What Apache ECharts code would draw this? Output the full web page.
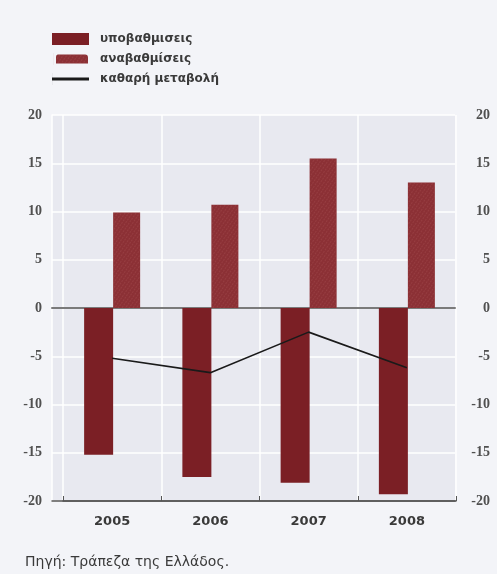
<!DOCTYPE html>
<html lang="el">
<head>
<meta charset="UTF-8">
<title>Αναβαθμίσεις και υποβαθμίσεις</title>
<script src="https://cdn.jsdelivr.net/npm/echarts@6/dist/echarts.min.js"></script>
<style>
  html, body { margin: 0; padding: 0; background: #f3f4f8; }
  #main { width: 497px; height: 574px; }
</style>
</head>
<body>
<div id="main"></div>
<script>
var years = ['2005', '2006', '2007', '2008'];
var downgrades = [-15.2, -17.5, -18.1, -19.3]; // υποβαθμίσεις
var upgrades = [9.9, 10.7, 15.5, 13.0];        // αναβαθμίσεις
var netChange = [-5.2, -6.7, -2.5, -6.2];      // καθαρή μεταβολή
var yMin = -20, yMax = 20, yStep = 5;

var chart = echarts.init(document.getElementById('main'));

// grid 0 = plot background, zero line + left/right labels, grid 1 = the data
var tickFont = { fontFamily: "'Liberation Serif', 'Times New Roman', serif", fontSize: 14, fontWeight: 'bold', color: '#505050' };

var option = {
    backgroundColor: '#f3f4f8',
    animation: false,
    grid: [
        { left: 52, right: 42, top: 115, bottom: 73, show: true, backgroundColor: '#e8e9f0', borderWidth: 0 },
        { left: 63, right: 41, top: 115, bottom: 73 }
    ],
    legend: {
        orient: 'vertical',
        left: 52, top: 33, padding: 0,
        itemWidth: 37, itemHeight: 12, itemGap: 8,
        textStyle: { fontFamily: 'DejaVu Sans', fontSize: 12, fontWeight: 'bold', color: '#3a3a3a', padding: [0, 0, 0, 6] },
        data: [
            { name: 'υποβαθμισεις', icon: 'rect' },
            { name: 'αναβαθμίσεις', icon: 'path://M0,0L0.05,0L0.05,12L0,12Z M5,1.5L32,1.5Q35,1.5 35,4.5L35,10.5L3,10.5L3,4.5Q3,1.5 5,1.5Z' },
            { name: 'καθαρή μεταβολή', icon: 'path://M0,0L0.05,0L0.05,12L0,12Z M0,4.5L37,4.5L37,7.5L0,7.5Z', itemStyle: { color: '#1a1a1a' } }
        ]
    },
    xAxis: [{
        gridIndex: 0,
        type: 'category',
        data: years,
        axisLine: { onZero: false, lineStyle: { color: '#555', width: 1.5 } },
        axisTick: { show: false },
        axisLabel: { show: false },
        splitLine: { show: false }
    }, {
        gridIndex: 1,
        type: 'category',
        data: years,
        axisLine: { onZero: false, lineStyle: { color: '#555', width: 1.5 } },
        axisTick: { show: true, inside: true, length: 5, lineStyle: { color: '#555' } },
        axisLabel: { fontFamily: 'DejaVu Sans', fontSize: 13, fontWeight: 'bold', color: '#3a3a3a', margin: 14 },
        splitLine: { show: true, lineStyle: { color: '#ffffff', width: 1.5 } }
    }, {
        gridIndex: 0,
        type: 'category',
        data: years,
        position: 'bottom',
        axisLine: { onZero: true, lineStyle: { color: '#7a7a7a', width: 2 } },
        axisTick: { show: false },
        axisLabel: { show: false },
        splitLine: { show: false }
    }],
    yAxis: [{
        gridIndex: 0,
        type: 'value',
        min: yMin, max: yMax, interval: yStep,
        axisLine: { show: true, lineStyle: { color: '#ffffff', width: 1.5 } },
        axisTick: { show: false },
        axisLabel: Object.assign({ margin: 10 }, tickFont),
        splitLine: { lineStyle: { color: '#ffffff', width: 1.5 } }
    }, {
        gridIndex: 0,
        type: 'value',
        position: 'right',
        min: yMin, max: yMax, interval: yStep,
        axisLine: { show: false },
        axisTick: { show: false },
        axisLabel: Object.assign({ margin: 35, align: 'right' }, tickFont),
        splitLine: { show: false }
    }, {
        gridIndex: 1,
        type: 'value',
        min: yMin, max: yMax, interval: yStep,
        axisLine: { show: false },
        axisTick: { show: false },
        axisLabel: { show: false },
        splitLine: { show: false }
    }],
    series: [{
        name: 'υποβαθμισεις',
        type: 'bar',
        xAxisIndex: 1, yAxisIndex: 2,
        data: downgrades,
        barWidth: 29,
        barGap: '0%',
        itemStyle: { color: '#7b1f25' }
    }, {
        name: 'αναβαθμίσεις',
        type: 'bar',
        xAxisIndex: 1, yAxisIndex: 2,
        data: upgrades,
        barWidth: 27,
        itemStyle: {
            color: '#8b3035',
            decal: {
                symbol: 'circle', symbolSize: 0.7,
                color: 'rgba(190,110,110,0.35)',
                dashArrayX: [3, 0], dashArrayY: [2, 1], rotation: 0.6
            }
        }
    }, {
        name: 'καθαρή μεταβολή',
        type: 'line',
        xAxisIndex: 1, yAxisIndex: 2,
        data: netChange,
        symbol: 'none',
        z: 5,
        lineStyle: { color: '#1a1a1a', width: 1.6 },
        itemStyle: { color: '#1a1a1a' }
    }],
    graphic: [{
        type: 'text',
        left: 25, top: 555,
        style: {
            text: 'Πηγή: Τράπεζα της Ελλάδος.',
            fontFamily: 'DejaVu Sans', fontSize: 14, fill: '#3a3a3a'
        }
    }]
};

chart.setOption(option);
</script>
</body>
</html>
